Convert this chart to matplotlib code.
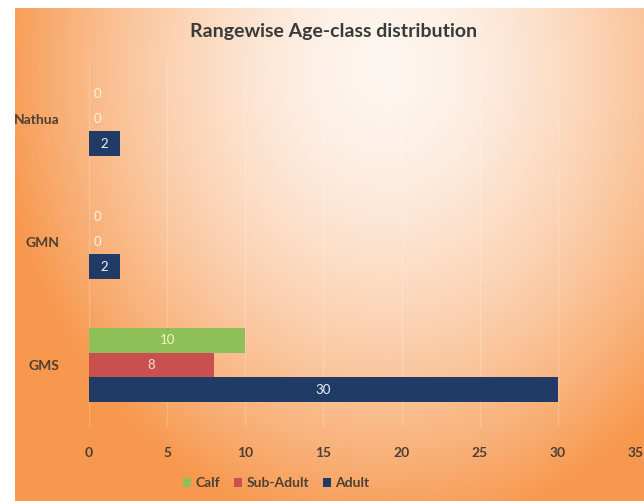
import matplotlib.pyplot as plt
import numpy as np

ranges = ["GMS", "GMN", "Nathua"]
calf = [10, 0, 0]
sub_adult = [8, 0, 0]
adult = [30, 2, 2]

series = [("Calf", calf, "#8fc057", "#eef7c8"),
          ("Sub-Adult", sub_adult, "#c9504f", "#f8d8d0"),
          ("Adult", adult, "#1f3b66", "#f2f2f2")]

plt.rcParams['font.family'] = ['Lato', 'DejaVu Sans']

fig = plt.figure(figsize=(6.44, 5.01), dpi=100)
fig.patch.set_facecolor("white")

# radial orange backdrop, light in the upper middle
bg = fig.add_axes([15 / 644, 0, 629 / 644, 493 / 501], zorder=0)
h, w = 493, 629
yy, xx = np.mgrid[0:h, 0:w]
cx, cy = 370, 60
d = np.sqrt(((xx - cx) / 390.0) ** 2 + ((yy - cy) / 470.0) ** 2)
t = np.clip(d, 0, 1) ** 1.6
light = np.array([254, 246, 240]) / 255
orange = np.array([247, 152, 78]) / 255
img = light[None, None, :] * (1 - t[..., None]) + orange[None, None, :] * t[..., None]
bg.imshow(img, aspect="auto", interpolation="bilinear")
bg.axis("off")

ax = fig.add_axes([89 / 644, 1 - 426.5 / 501, (636 - 89) / 644, 369 / 501], zorder=1)
ax.patch.set_alpha(0)

y = np.arange(len(ranges))
hgt = 0.2
offsets = [hgt, 0, -hgt]
for (name, vals, col, tcol), off in zip(series, offsets):
    bars = ax.barh(y + off, vals, height=hgt, color=col, label=name, zorder=3)
    for b, v in zip(bars, vals):
        xc = b.get_x() + b.get_width() / 2
        yc = b.get_y() + b.get_height() / 2
        ax.annotate(str(v), (xc, yc), xytext=(6 if v == 0 else 0, 0),
                    textcoords="offset points", ha="center", va="center",
                    fontsize=9.5, color=tcol if v else "#fdf3ea", zorder=4)

ax.set_xlim(0, 35)
ax.set_ylim(-0.5, 2.5)
ax.set_xticks(np.arange(0, 36, 5))
ax.set_yticks(y)
ax.set_yticklabels(ranges)
ax.tick_params(axis="x", length=0, labelsize=10, colors="#4d3f33", pad=15)
ax.tick_params(axis="y", length=0, labelsize=10, colors="#4d3f33", pad=21)
for lbl in ax.get_xticklabels() + ax.get_yticklabels():
    lbl.set_fontweight("bold")
ax.grid(axis="x", color="#ffffff", alpha=0.2, linewidth=1, zorder=1)
for s in ax.spines.values():
    s.set_visible(False)

fig.text(334 / 644, 1 - 32 / 501, "Rangewise Age-class distribution",
         ha="center", va="center", fontsize=14, fontweight="bold", color="#3a3a3a")

leg = fig.legend(loc="center", bbox_to_anchor=(276 / 644, 1 - 483 / 501), ncol=3,
                 frameon=False, handlelength=0.6, handleheight=0.6,
                 handletextpad=0.3, columnspacing=1.0, fontsize=10)
for txt in leg.get_texts():
    txt.set_color("#4d3f33")
    txt.set_fontweight("bold")

fig.savefig("out.png", dpi=100)
